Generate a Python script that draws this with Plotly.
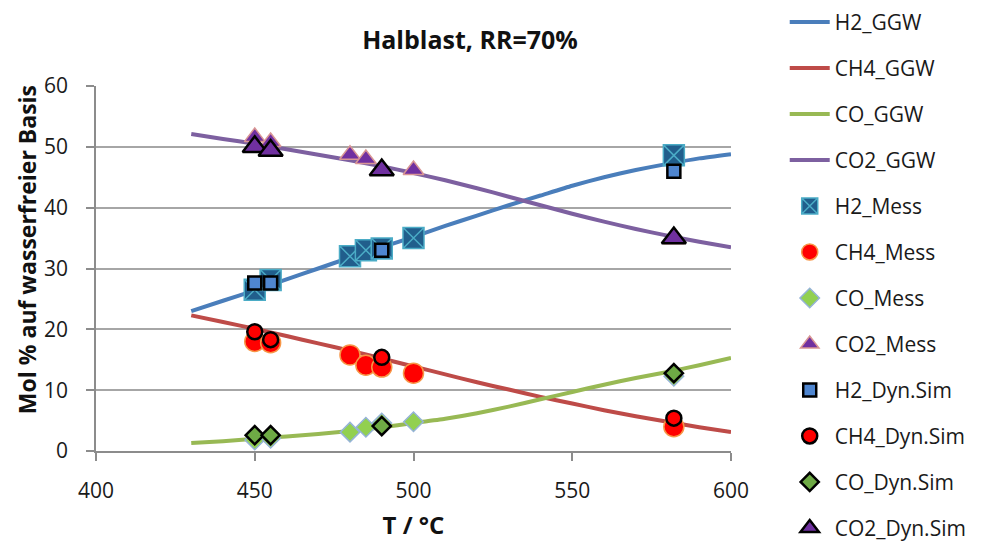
import plotly.graph_objects as go

# Equilibrium (GGW) curves
T_ggw = [430, 440, 450, 460, 470, 480, 490, 500, 510, 520, 530, 540, 550, 560, 570, 580, 590, 600]
H2_ggw = [23.0, 24.7, 26.4, 28.2, 30.0, 31.8, 33.5, 35.2, 37.0, 38.7, 40.4, 42.0, 43.6, 45.0, 46.2, 47.2, 48.1, 48.8]
CH4_ggw = [22.3, 21.2, 20.1, 18.9, 17.7, 16.5, 15.2, 13.9, 12.6, 11.3, 10.1, 8.9, 7.8, 6.7, 5.7, 4.8, 3.9, 3.1]
CO_ggw = [1.3, 1.6, 2.0, 2.4, 2.8, 3.3, 3.9, 4.6, 5.3, 6.2, 7.3, 8.5, 9.7, 10.9, 12.0, 13.0, 14.1, 15.3]
CO2_ggw = [52.1, 51.3, 50.5, 49.6, 48.7, 47.8, 46.8, 45.7, 44.5, 43.2, 41.8, 40.4, 39.0, 37.7, 36.5, 35.4, 34.4, 33.5]

# Measurements
T_mess = [450, 455, 480, 485, 490, 500, 582]
H2_mess = [26.5, 28.1, 32.0, 33.0, 33.3, 35.0, 48.6]
CH4_mess = [18.0, 17.8, 15.8, 14.1, 13.8, 12.8, 4.0]
CO_mess = [1.8, 2.1, 3.1, 3.9, 4.6, 4.8, 12.3]
CO2_mess = [51.6, 50.8, 48.7, 48.0, 46.4, 46.2, 34.8]

# Dynamic simulation
T_dyn = [450, 455, 490, 582]
H2_dyn = [27.6, 27.6, 33.0, 46.0]
CH4_dyn = [19.6, 18.3, 15.4, 5.4]
CO_dyn = [2.6, 2.6, 4.1, 12.8]
CO2_dyn = [50.0, 49.4, 46.2, 35.0]

FONT = "Open Sans"

fig = go.Figure()

lines = [
    ("H2_GGW", H2_ggw, "#4A7EBB"),
    ("CH4_GGW", CH4_ggw, "#BE4B48"),
    ("CO_GGW", CO_ggw, "#98B954"),
    ("CO2_GGW", CO2_ggw, "#7D60A0"),
]
for name, ys, col in lines:
    fig.add_trace(go.Scatter(x=T_ggw, y=ys, mode="lines", name=name, legendgroup=name,
                             line=dict(color=col, width=4, shape="spline", smoothing=0.5)))

mess = [
    ("H2_Mess", H2_mess, "square-x", 21, "#215E8C", "#4BACC6", 1.5),
    ("CH4_Mess", CH4_mess, "circle", 20, "#FF0000", "#F79646", 1.5),
    ("CO_Mess", CO_mess, "diamond", 15, "#92D050", "#95B3D7", 1.5),
    ("CO2_Mess", CO2_mess, "triangle-up", 18, "#7030A0", "#D99694", 1.5),
]
for name, ys, sym, size, fill, edge, lw in mess:
    fig.add_trace(go.Scatter(x=T_mess, y=ys, mode="markers", name=name, legendgroup=name,
                             marker=dict(symbol=sym, size=size, color=fill,
                                         line=dict(color=edge, width=lw))))

dyn = [
    ("H2_Dyn.Sim", H2_dyn, "square", 13, "#4F86D0"),
    ("CH4_Dyn.Sim", CH4_dyn, "circle", 15, "#FF0000"),
    ("CO_Dyn.Sim", CO_dyn, "diamond", 14, "#6EAA45"),
    ("CO2_Dyn.Sim", CO2_dyn, "triangle-up", 21, "#7030A0"),
]
for name, ys, sym, size, fill in dyn:
    fig.add_trace(go.Scatter(x=T_dyn, y=ys, mode="markers", name=name, legendgroup=name,
                             marker=dict(symbol=sym, size=size, color=fill,
                                         line=dict(color="#000000", width=2.5))))

fig.update_layout(
    width=984, height=541,
    margin=dict(l=96, r=253, t=86, b=90, autoexpand=False),
    paper_bgcolor="white", plot_bgcolor="white",
    font=dict(family=FONT, size=21, color="#1a1a1a"),
    title=dict(text="<b>Halblast, RR=70%</b>", xref="paper", x=0.589, xanchor="center",
               y=0.926, yanchor="middle", font=dict(family=FONT, size=25, color="#111")),
    showlegend=True,
    legend=dict(x=1.0846, xanchor="left", y=1.2307, yanchor="top",
                font=dict(family=FONT, size=21, color="#1a1a1a"),
                tracegroupgap=15.7, bgcolor="rgba(0,0,0,0)", itemwidth=40,
                maxheight=800),
    xaxis=dict(range=[400, 600], dtick=50, tick0=400, showgrid=False, zeroline=False,
               showline=True, linecolor="#8C8C8C", linewidth=1.5,
               ticks="outside", ticklen=8, tickcolor="#8C8C8C", tickwidth=1.5,
               ticklabelstandoff=12, automargin=False,
               title=dict(text="<b>T / °C</b>", font=dict(family=FONT, size=24, color="#111"),
                          standoff=14)),
    yaxis=dict(range=[0, 60], dtick=10, showgrid=True, gridcolor="#A6A6A6", gridwidth=1.5,
               zeroline=False, showline=True, linecolor="#8C8C8C", linewidth=1.5,
               ticks="outside", ticklen=8, tickcolor="#8C8C8C", tickwidth=1.5,
               ticklabelstandoff=14, automargin=False),
    annotations=[dict(text="<b>Mol % auf wasserfreier Basis</b>", textangle=-90,
                      xref="paper", yref="paper", x=-0.1087, y=0.553,
                      xanchor="center", yanchor="middle", showarrow=False,
                      font=dict(family=FONT, size=23, color="#111"))],
)

fig.write_html("out.html")
